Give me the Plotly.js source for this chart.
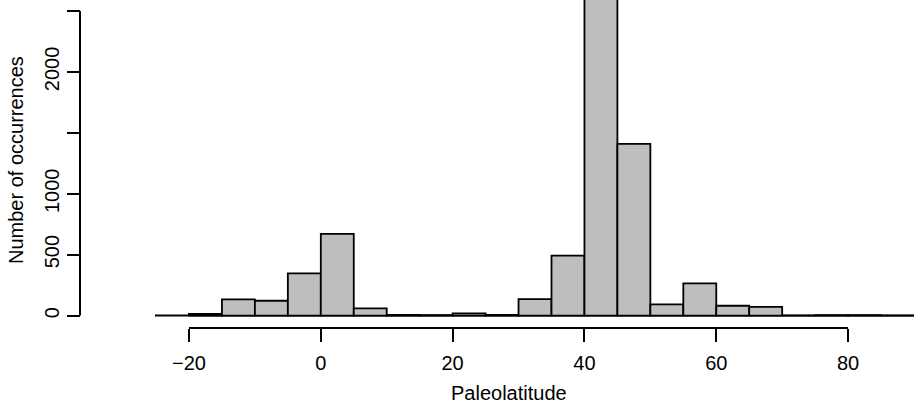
<!DOCTYPE html>
<html>
<head>
<meta charset="utf-8">
<script src="https://cdn.plot.ly/plotly-3.0.1.min.js"></script>
<style>html,body{margin:0;padding:0;background:#fff;}#chart{width:914px;height:404px;}</style>
</head>
<body>
<div id="chart"></div>
<script>
// Histogram of paleolatitudes, 5-degree bins (left edges) and counts
var binLeft = [-20, -15, -10, -5, 0, 5, 10, 15, 20, 25, 30, 35, 40, 45, 50, 55, 60, 65, 70, 75, 80, 85];
var counts  = [14, 133, 122, 347, 670, 59, 5, 3, 18, 5, 136, 492, 2900, 1410, 92, 265, 81, 72, 0, 4, 4, 0];
var binWidth = 5;

var xTickVals = [-20, 0, 20, 40, 60, 80];
var xTickText = ['\u221220', '0', '20', '40', '60', '80'];
var yTickVals = [0, 500, 1000, 1500, 2000, 2500];
var yTickText = ['0', '500', '1000', '', '2000', ''];

var FONT = 'Liberation Sans, Arial, Helvetica, sans-serif';

var trace = {
  type: 'bar',
  x: binLeft,
  y: counts,
  width: binWidth,
  offset: 0,
  marker: {color: '#bebebe', line: {color: '#000', width: 1.8}},
  hoverinfo: 'skip'
};

var layout = {
  width: 914, height: 404,
  margin: {l: 80, r: 0, t: 0, b: 76, pad: 0},
  paper_bgcolor: '#fff', plot_bgcolor: '#fff',
  showlegend: false,
  bargap: 0,
  font: {family: FONT, size: 20, color: '#000'},
  xaxis: {
    domain: [0.0899, 1],
    range: [-25.16, 90.0],
    anchor: 'y',
    showline: false, showgrid: false, zeroline: false,
    ticks: 'outside', ticklen: 13, tickwidth: 2, tickcolor: '#000',
    tickmode: 'array', tickvals: xTickVals, ticktext: xTickText,
    ticklabelstandoff: 4,
    tickfont: {family: FONT, size: 20, color: '#000'}
  },
  yaxis: {
    domain: [0, 1],
    range: [-101.8, 2590.3],
    anchor: 'free', position: 0,
    showline: false, showgrid: false, zeroline: false,
    ticks: 'outside', ticklen: 13, tickwidth: 2, tickcolor: '#000',
    tickmode: 'array', tickvals: yTickVals, ticktext: yTickText,
    tickangle: -90,
    tickfont: {family: FONT, size: 20, color: '#000'}
  },
  shapes: [
    // baseline at zero across plot region
    {type: 'line', xref: 'x domain', x0: 0, x1: 1, yref: 'y', y0: 0, y1: 0,
     line: {color: '#000', width: 2}, layer: 'below'},
    // y axis line from first to last tick
    {type: 'line', xref: 'paper', x0: 0, x1: 0, yref: 'y', y0: yTickVals[0], y1: yTickVals[yTickVals.length - 1],
     line: {color: '#000', width: 2}},
    // x axis line from first to last tick
    {type: 'line', xref: 'x', x0: xTickVals[0], x1: xTickVals[xTickVals.length - 1], yref: 'paper', y0: 0, y1: 0,
     line: {color: '#000', width: 2}}
  ],
  annotations: [
    {text: 'Paleolatitude', xref: 'paper', yref: 'paper', x: (509 - 80) / 834, y: (328 - 393) / 328,
     xanchor: 'center', yanchor: 'middle', showarrow: false, font: {family: FONT, size: 20, color: '#000'}},
    {text: 'Number of occurrences', xref: 'paper', yref: 'paper', x: (16 - 80) / 834, y: (328 - 160) / 328,
     xanchor: 'center', yanchor: 'middle', textangle: -90, showarrow: false, font: {family: FONT, size: 20, color: '#000'}}
  ]
};

Plotly.newPlot('chart', [trace], layout, {displayModeBar: false, staticPlot: true});
</script>
</body>
</html>
